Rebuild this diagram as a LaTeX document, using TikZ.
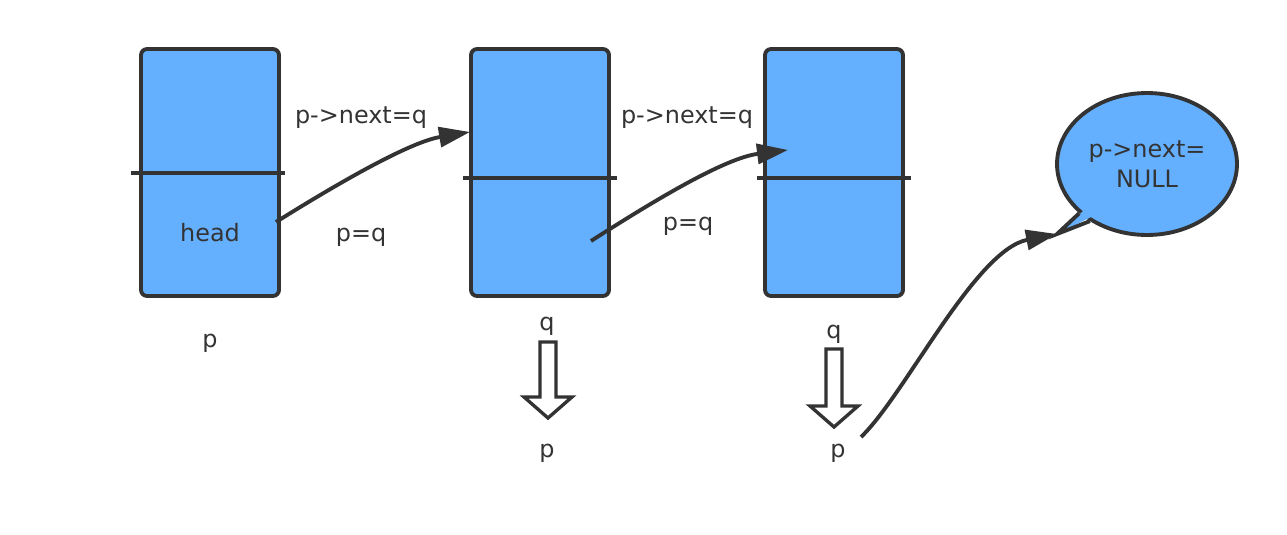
\documentclass[tikz,border=0pt]{standalone}
\usepackage{fontspec}
\setmainfont{DejaVu Sans}
\usetikzlibrary{arrows.meta,calc,shapes.geometric}
\definecolor{cellblue}{RGB}{100,176,255}
\definecolor{ink}{RGB}{51,51,51}
\tikzset{
  cell/.style={draw=ink,fill=cellblue,line width=2.2pt,rounded corners=1.2mm,
    minimum width=2.76cm,minimum height=4.94cm,inner sep=0pt},
  divider/.style={draw=ink,line width=2.2pt},
  link/.style={draw=ink,line width=2.2pt,-{Triangle[length=6.2mm,width=4mm]}},
  lbl/.style={text=ink,font=\fontsize{13.6}{17}\selectfont,inner sep=0pt,anchor=base},
  hollow/.style={draw=ink,fill=white,line width=1.9pt,line join=miter},
  bubble/.style={ellipse,draw=ink,fill=cellblue,line width=2.2pt,text=ink,
    minimum width=3.6cm,minimum height=2.84cm,inner sep=0pt,align=center,
    font=\fontsize{13.6}{17}\selectfont}
}
% hollow "becomes" arrow: centre x, top y, tip y
\newcommand{\becomes}[3]{
  \draw[hollow] (#1-8,#2) -- (#1+8,#2) -- (#1+8,#3-21) -- (#1+24,#3-21)
    -- (#1,#3) -- (#1-24,#3-21) -- (#1-8,#3-21) -- cycle;
}

\begin{document}
\begin{tikzpicture}[x=0.02cm,y=-0.02cm]
  \useasboundingbox (0,0) rectangle (1287,534);

  % ================= list cells =================
  \node[cell] (head) at (210,172.5) {};
  \node[cell] (cellq) at (540,172.5) {};
  \node[cell] (cellr) at (834,172.5) {};
  \draw[divider] (131,173) -- (285,173);
  \draw[divider] (463,178) -- (617,178);
  \draw[divider] (757,178) -- (911,178);

  \node[lbl] (lhead) at (210,241) {head};
  \node[lbl] (lp1) at (210,347) {p};

  % ================= first step =================
  \coordinate (from1) at (276,222);
  \coordinate (to1) at (470,132);
  \draw[link] (from1) .. controls (340,182) and (410,142) .. (to1);
  \node[lbl] (lnext1) at (361,123) {p->next=q};
  \node[lbl] (lpq1) at (361,241) {p=q};

  % ================= second step =================
  \coordinate (from2) at (591,241);
  \coordinate (to2) at (788,150);
  \draw[link] (from2) .. controls (655,200) and (725,158) .. (to2);
  \node[lbl] (lnext2) at (687,123) {p->next=q};
  \node[lbl] (lpq2) at (688,230) {p=q};

  % ================= q becomes p =================
  \node[lbl] (lq2) at (547,330) {q};
  \becomes{548}{342}{418}
  \node[lbl] (lp2) at (547,457) {p};

  \node[lbl] (lq3) at (834,338) {q};
  \becomes{834}{349}{427}
  \node[lbl] (lp3) at (838,457) {p};

  % ================= end of list =================
  \node[bubble] (nullmsg) at (1147,164) {p->next=\\NULL};
  \coordinate (tail) at (1057,234);
  \fill[cellblue] ($(nullmsg.center)!0.88!(nullmsg.216)$) -- (tail)
    -- ($(nullmsg.center)!0.88!(nullmsg.225)$) -- cycle;
  \draw[ink,line width=2.2pt,line join=miter] (nullmsg.216) -- (tail) -- (nullmsg.225);

  \coordinate (from3) at (861,437);
  \draw[link] (from3) .. controls (905,395) and (975,250) .. (tail);
\end{tikzpicture}
\end{document}
